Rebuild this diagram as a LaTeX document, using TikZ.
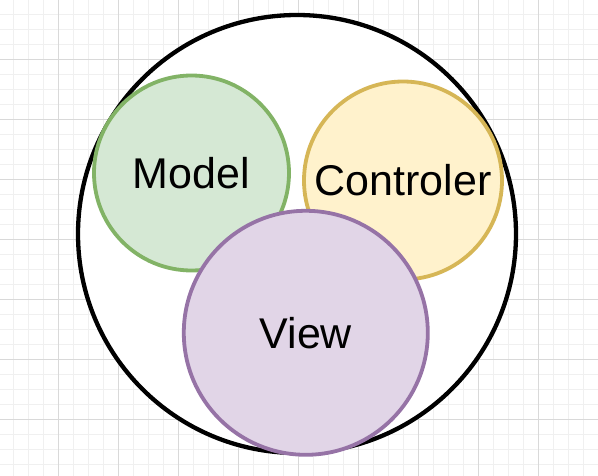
\documentclass[tikz,border=0pt]{standalone}
\usepackage{fontspec}
\setmainfont{Liberation Sans}
\usepackage{xcolor}
\definecolor{gridminor}{HTML}{F0F0F0}
\definecolor{gridmajor}{HTML}{D9D9D9}
\definecolor{modelfill}{HTML}{D5E8D4}
\definecolor{modeldraw}{HTML}{82B366}
\definecolor{ctrlfill}{HTML}{FFF2CC}
\definecolor{ctrldraw}{HTML}{D6B656}
\definecolor{viewfill}{HTML}{E1D5E7}
\definecolor{viewdraw}{HTML}{9673A6}

\begin{document}
\begin{tikzpicture} [
    x=1pt, y=-1pt,
    minorline/.style = { draw=gridminor, line width=1pt },
    majorline/.style = { draw=gridmajor, line width=1pt },
    part/.style      = { circle, inner sep=0pt, line width=3.8pt,
                         font=\fontsize{43}{50}\selectfont },
    whole/.style     = { circle, inner sep=0pt, draw=black,
                         fill=white, line width=4.3pt },
  ]
  \useasboundingbox (0,0) rectangle (598,476);
  % background grid
  \fill[white] (0,0) rectangle (598,476);
  \foreach \x in {13,28,...,598} \draw[minorline] (\x,0) -- (\x,476);
  \foreach \y in {14.5,29.5,...,476} \draw[minorline] (0,\y) -- (598,\y);
  \foreach \x in {58,118,...,598} \draw[majorline] (\x,0) -- (\x,476);
  \foreach \y in {59.5,119.5,...,476} \draw[majorline] (0,\y) -- (598,\y);

  % the application
  \node [whole, minimum size=438pt] (app) at (297,234) {};
  \node [part, draw=modeldraw, fill=modelfill, minimum size=195pt]
        (model) at (191.5,173) {Model};
  \node [part, draw=ctrldraw, fill=ctrlfill, minimum size=198pt]
        (ctrl) at (403,180.5) {Controler};
  \node [part, draw=viewdraw, fill=viewfill, minimum size=244pt]
        (view) at (305.8,332.8) {View};
\end{tikzpicture}
\end{document}
